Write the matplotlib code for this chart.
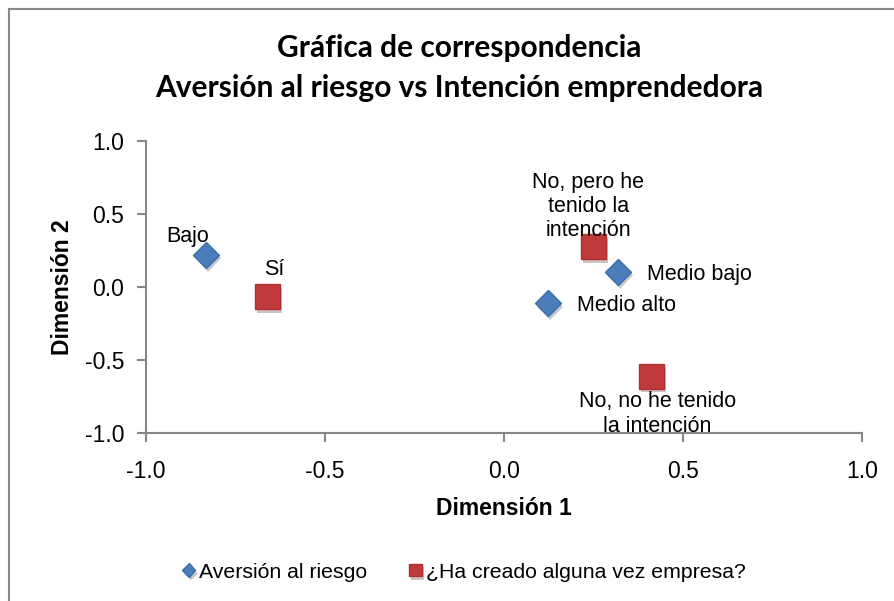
import matplotlib.pyplot as plt
import matplotlib.patheffects as pe
from matplotlib.patches import Rectangle

# categories and coordinates
riesgo_labels = ["Bajo", "Medio bajo", "Medio alto"]
riesgo_x = [-0.832, 0.318, 0.123]
riesgo_y = [0.219, 0.103, -0.110]

empresa_labels = ["Sí", "No, pero he\ntenido la\nintención", "No, no he tenido\nla intención"]
empresa_x = [-0.662, 0.251, 0.413]
empresa_y = [-0.068, 0.274, -0.610]

ticks = [-1.0, -0.5, 0.0, 0.5, 1.0]

blue = "#4a7ebb"
red = "#c0393b"
grey = "#878787"

plt.rcParams['font.family'] = ['Liberation Sans', 'DejaVu Sans']

fig = plt.figure(figsize=(8.95, 6.01), dpi=100)
ax = fig.add_axes([146/895, 1-433/601, (862-146)/895, (433-141)/601])

# outer frame of the chart area
fig.patches.append(Rectangle((9/895, -0.05), 1.2, 1-9/601+0.05, transform=fig.transFigure,
                             fill=False, edgecolor=grey, linewidth=1.5))

shadow = [pe.SimplePatchShadow(offset=(1.5, -2.5), alpha=0.25), pe.Normal()]
ax.plot(riesgo_x, riesgo_y, 'D', color=blue, markersize=13.5, markeredgecolor="#3a6eab",
        label="Aversión al riesgo", linestyle='none', path_effects=shadow)
ax.plot(empresa_x, empresa_y, 's', color=red, markersize=18, markeredgecolor="#b03030",
        label="¿Ha creado alguna vez empresa?", linestyle='none', path_effects=shadow)

# data labels
lab = dict(fontsize=15.5, color="black")
ax.annotate(riesgo_labels[0], (riesgo_x[0], riesgo_y[0]), xytext=(-13, 6), textcoords='offset points',
            ha='center', va='bottom', **lab)
ax.annotate(riesgo_labels[1], (riesgo_x[1], riesgo_y[1]), xytext=(21, -2), textcoords='offset points',
            ha='left', va='center', **lab)
ax.annotate(riesgo_labels[2], (riesgo_x[2], riesgo_y[2]), xytext=(21, -2), textcoords='offset points',
            ha='left', va='center', **lab)
ax.annotate(empresa_labels[0], (empresa_x[0], empresa_y[0]), xytext=(5, 12), textcoords='offset points',
            ha='center', va='bottom', **lab)
ax.annotate(empresa_labels[1], (empresa_x[1], empresa_y[1]), xytext=(-4, 4), textcoords='offset points',
            ha='center', va='bottom', linespacing=1.2, **lab)
ax.annotate(empresa_labels[2], (empresa_x[2], empresa_y[2]), xytext=(4, -11), textcoords='offset points',
            ha='center', va='top', linespacing=1.2, **lab)

ax.set_xlim(-1, 1)
ax.set_ylim(-1, 1)
ax.set_xticks(ticks)
ax.set_yticks(ticks)
ax.set_xticklabels([f"{t:.1f}" for t in ticks])
ax.set_yticklabels([f"{t:.1f}" for t in ticks])
ax.tick_params(labelsize=16.5, color=grey, length=6.5, width=1.5, direction='out')
ax.tick_params(axis='x', pad=13)
ax.tick_params(axis='y', pad=9)
for s in ['top', 'right']:
    ax.spines[s].set_visible(False)
for s in ['left', 'bottom']:
    ax.spines[s].set_color(grey)
    ax.spines[s].set_linewidth(1.5)

ax.set_xlabel("Dimensión 1", fontsize=16.5, fontweight='bold', labelpad=10)
ax.set_ylabel("Dimensión 2", fontsize=16.5, fontweight='bold', labelpad=8)

fig.text(0.513, 1-48/601, "Gráfica de correspondencia", fontsize=21.5, fontweight='bold',
         ha='center', va='center', family=['Lato', 'DejaVu Sans'])
fig.text(0.513, 1-88/601, "Aversión al riesgo vs Intención emprendedora", fontsize=21.5, fontweight='bold',
         ha='center', va='center', family=['Lato', 'DejaVu Sans'])

fig.legend(loc='center', bbox_to_anchor=(0.518, 1-572/601), ncol=2, frameon=False,
           fontsize=15.3, markerscale=0.5, handlelength=0.7, handletextpad=0.15, columnspacing=1.9)

fig.savefig("out.png", dpi=100)
